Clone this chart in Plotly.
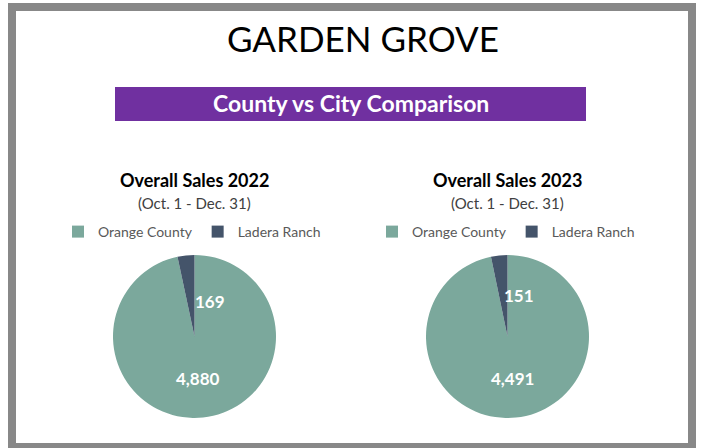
import plotly.graph_objects as go

W, H = 702, 448

labels = ["Orange County", "Ladera Ranch"]
sales_2022 = [4880, 169]
sales_2023 = [4491, 151]
chart_titles = ["Overall Sales 2022", "Overall Sales 2023"]
period = "(Oct. 1 - Dec. 31)"
main_title = "GARDEN GROVE"
banner = "County vs City Comparison"
colors = ["#7BA89C", "#44546A"]

FONT = "Lato"

def px(x):
    return x / W

def py(y):
    return 1 - y / H

fig = go.Figure()

pie_boxes = [(113, 276, 255, 418), (426, 589, 255, 418)]
legends = ["legend", "legend2"]
for i, (vals, box, lg) in enumerate(zip([sales_2022, sales_2023], pie_boxes, legends)):
    x0, x1, y0, y1 = box
    fig.add_trace(go.Pie(
        labels=labels, values=vals, sort=False, direction="clockwise", rotation=0,
        marker=dict(colors=colors, line=dict(width=0)),
        textinfo="none", hoverinfo="label+value",
        domain=dict(x=[px(x0), px(x1)], y=[py(y1), py(y0)]),
        legend=lg, legendgroup=f"g{i}", showlegend=True,
    ))

leg_common = dict(orientation="h", xanchor="center", yanchor="middle", traceorder="normal",
                  font=dict(family=FONT, size=14, color="#595959"), itemwidth=30,
                  bgcolor="rgba(0,0,0,0)", itemclick=False, tracegroupgap=0)

annotations = [
    dict(x=px(363), y=py(38), text=main_title, showarrow=False, xref="paper", yref="paper",
         font=dict(family=FONT, size=35, color="#000000"), xanchor="center", yanchor="middle"),
    dict(x=px(351), y=py(103), text=f"<b>{banner}</b>", showarrow=False, xref="paper", yref="paper",
         font=dict(family=FONT, size=23, color="#FFFFFF"), xanchor="center", yanchor="middle"),
]
for cx, t in zip([194, 507], chart_titles):
    annotations.append(dict(x=px(cx), y=py(180), text=f"<b>{t}</b>", showarrow=False,
                            xref="paper", yref="paper", xanchor="center", yanchor="middle",
                            font=dict(family=FONT, size=18, color="#000000")))
    annotations.append(dict(x=px(cx), y=py(203), text=period, showarrow=False,
                            xref="paper", yref="paper", xanchor="center", yanchor="middle",
                            font=dict(family=FONT, size=15, color="#404040")))

label_pos = [((198, 378), (210, 301)), ((512, 378), (519, 295))]
for vals, pos in zip([sales_2022, sales_2023], label_pos):
    for v, (lx, ly) in zip(vals, pos):
        annotations.append(dict(x=px(lx), y=py(ly), text=f"<b>{v:,}</b>", showarrow=False,
                                xref="paper", yref="paper", xanchor="center", yanchor="middle",
                                font=dict(family=FONT, size=17, color="#FFFFFF")))

shapes = [
    dict(type="rect", xref="paper", yref="paper", x0=px(115), x1=px(586), y0=py(121), y1=py(87),
         fillcolor="#7030A0", line=dict(width=0), layer="below"),
    dict(type="rect", xref="paper", yref="paper", x0=px(12), x1=px(692), y0=py(447), y1=py(7),
         fillcolor="rgba(0,0,0,0)", line=dict(color="#888888", width=8)),
]

fig.update_layout(
    width=W, height=H, margin=dict(l=0, r=0, t=0, b=0),
    paper_bgcolor="#FFFFFF", plot_bgcolor="#FFFFFF",
    annotations=annotations, shapes=shapes,
    legend=dict(x=px(192), y=py(232), **leg_common),
    legend2=dict(x=px(506), y=py(232), **leg_common),
)

fig.write_html("out.html", config={"displayModeBar": False},
               post_script="document.body.style.margin='0';document.body.style.overflow='hidden';")
